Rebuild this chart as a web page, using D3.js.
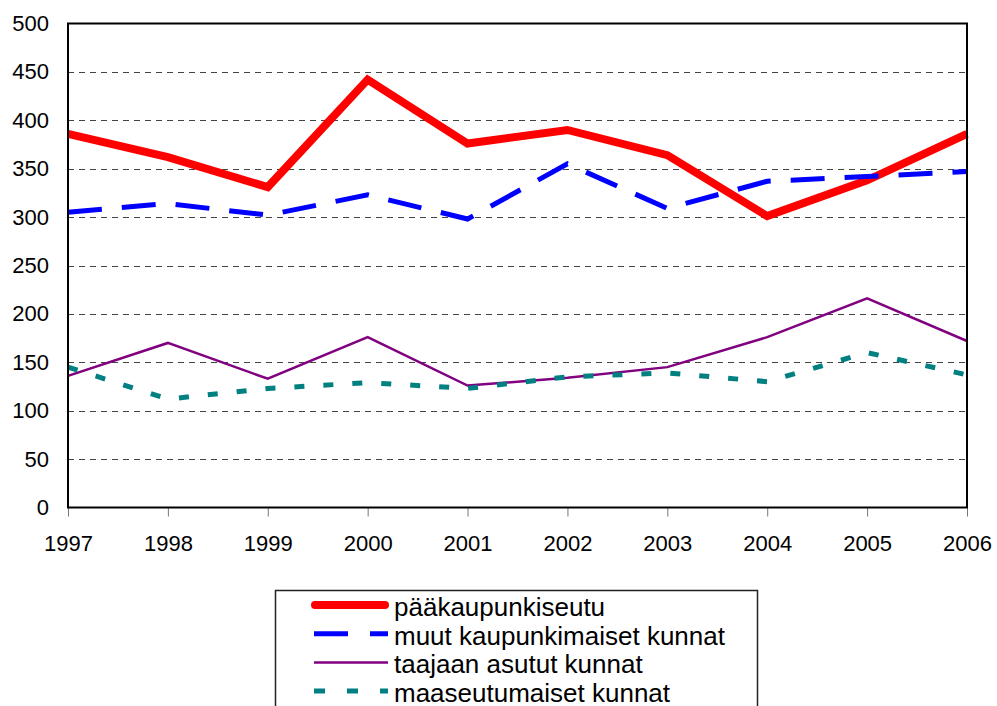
<!DOCTYPE html>
<html>
<head>
<meta charset="utf-8">
<script src="https://cdn.jsdelivr.net/npm/d3@7"></script>
<style>
    body { margin: 0; background: #fff; }
    svg { display: block; font-family: Arial, "Liberation Sans", sans-serif; }
</style>
</head>
<body>
<svg id="svg" width="997" height="706"></svg>
<script>
const years = [1997, 1998, 1999, 2000, 2001, 2002, 2003, 2004, 2005, 2006]
const yTicks = [0, 50, 100, 150, 200, 250, 300, 350, 400, 450, 500]

const paakaupunkiseutu = [386, 362, 331, 442, 376, 390, 364, 301, 338, 386]
const muutKaupunkimaiset = [305, 314, 302, 323, 298, 355, 309, 337, 342, 347]
const taajaanAsututut = [136, 170, 133, 176, 126, 134, 145, 176, 216, 172]
const maaseutumaiset = [145, 112, 123, 129, 123, 135, 139, 130, 160, 137]

const seriesNames = ['pääkaupunkiseutu', 'muut kaupunkimaiset kunnat', 'taajaan asutut kunnat', 'maaseutumaiset kunnat']
const seriesValues = [paakaupunkiseutu, muutKaupunkimaiset, taajaanAsututut, maaseutumaiset]
const seriesColors = ['#ff0000', '#0000ff', '#800080', '#008080']
const seriesWidths = [8, 5, 2.5, 5]
const seriesDash = [null, '34,20', null, '10,19']
const legendDash = [null, '34,22', null, '11,22']

const svg = d3.select('#svg')
const plotLeft = 68, plotRight = 967, plotTop = 23.5, plotBottom = 507.5

const x = d3.scaleLinear().domain([1997, 2006]).range([plotLeft, plotRight])
const y = d3.scaleLinear().domain([0, 500]).range([plotBottom, plotTop])

// grid lines
svg.append('g')
    .selectAll('line')
    .data(yTicks.filter((d) => d > 0 && d < 500))
    .enter()
    .append('line')
    .attr('x1', plotLeft)
    .attr('x2', plotRight)
    .attr('y1', (d) => Math.round(y(d)) + 0.5)
    .attr('y2', (d) => Math.round(y(d)) + 0.5)
    .attr('stroke', '#444')
    .attr('stroke-width', 1)
    .attr('stroke-dasharray', '6,5')

// x ticks and labels
const xAxis = svg.append('g')
    .attr('transform', `translate(0,${plotBottom})`)
    .call(d3.axisBottom(x).tickValues(years).tickFormat(d3.format('d')).tickSize(9).tickPadding(19))
xAxis.select('.domain').remove()
xAxis.selectAll('line').attr('stroke', '#777')
xAxis.selectAll('text')
    .attr('font-size', 22)
    .attr('font-family', 'Arial, "Liberation Sans", sans-serif')
    .attr('fill', '#000')

// y labels
const yAxis = svg.append('g')
    .attr('transform', `translate(${plotLeft},0)`)
    .call(d3.axisLeft(y).tickValues(yTicks).tickSize(0).tickPadding(19))
yAxis.select('.domain').remove()
yAxis.selectAll('text')
    .attr('font-size', 22)
    .attr('font-family', 'Arial, "Liberation Sans", sans-serif')
    .attr('fill', '#000')

// series
const line = d3.line()
    .x((d, i) => x(years[i]))
    .y((d) => y(d))

svg.append('g')
    .selectAll('path')
    .data(seriesValues)
    .enter()
    .append('path')
    .attr('d', (d) => line(d))
    .attr('fill', 'none')
    .attr('stroke', (d, i) => seriesColors[i])
    .attr('stroke-width', (d, i) => seriesWidths[i])
    .attr('stroke-dasharray', (d, i) => seriesDash[i])

// plot frame
svg.append('rect')
    .attr('x', plotLeft)
    .attr('y', plotTop)
    .attr('width', plotRight - plotLeft)
    .attr('height', plotBottom - plotTop)
    .attr('fill', 'none')
    .attr('stroke', '#000')
    .attr('stroke-width', 2)

// legend
const legend = svg.append('g')
legend.append('rect')
    .attr('x', 275.5)
    .attr('y', 590.5)
    .attr('width', 482)
    .attr('height', 140)
    .attr('fill', '#fff')
    .attr('stroke', '#222')
    .attr('stroke-width', 1.5)

const rows = legend.selectAll('g.row')
    .data(seriesNames)
    .enter()
    .append('g')
    .attr('class', 'row')
    .attr('transform', (d, i) => `translate(0,${616 + i * 28.7})`)

rows.append('line')
    .attr('x1', (d, i) => i === 0 ? 315 : 314)
    .attr('x2', (d, i) => i === 0 ? 385 : 388)
    .attr('y1', -11)
    .attr('y2', -11)
    .attr('stroke', (d, i) => seriesColors[i])
    .attr('stroke-width', (d, i) => seriesWidths[i])
    .attr('stroke-linecap', (d, i) => i === 0 ? 'round' : 'butt')
    .attr('stroke-dasharray', (d, i) => legendDash[i])

rows.append('text')
    .attr('x', 394)
    .attr('y', 0)
    .attr('font-size', 26)
    .attr('fill', '#000')
    .text((d) => d)
</script>
</body>
</html>
